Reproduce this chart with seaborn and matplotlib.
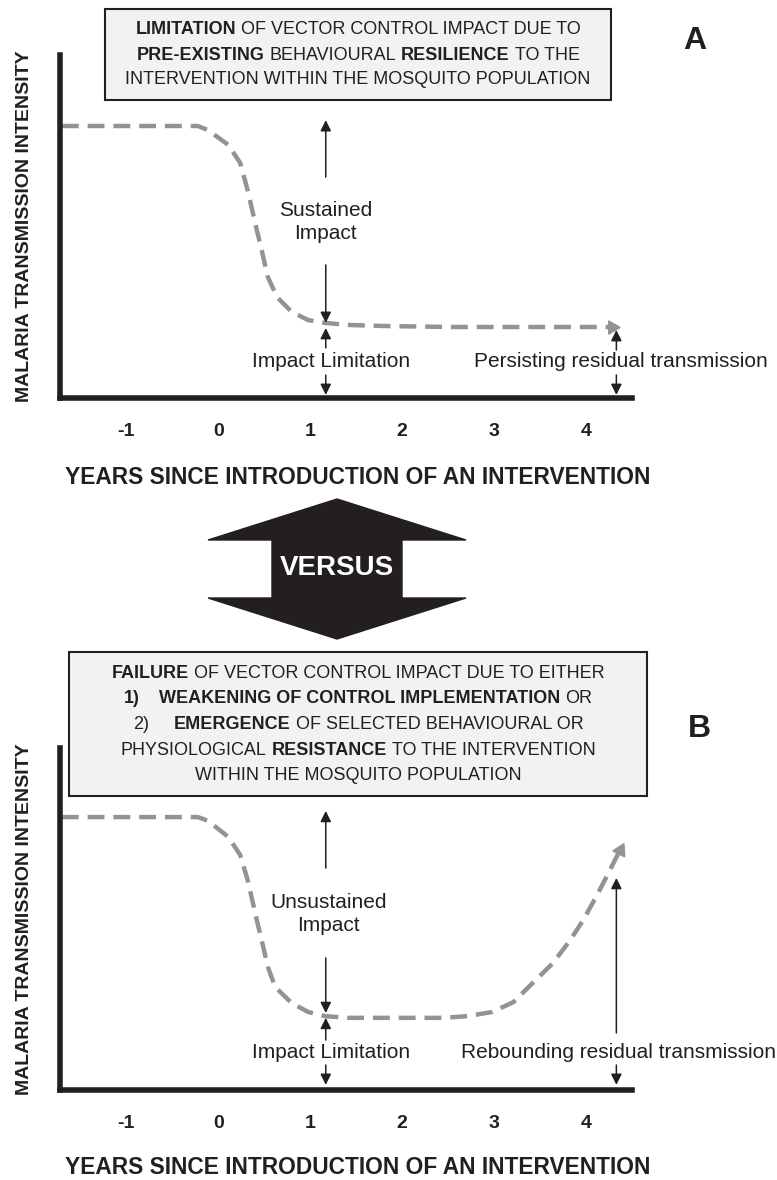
import numpy as np
import pandas as pd
import matplotlib
matplotlib.use("Agg")
import matplotlib.pyplot as plt
import seaborn as sns
from matplotlib.patches import Rectangle, Polygon

# ---- data ----
years = [-1, 0, 1, 2, 3, 4]

curve_a_x = [-1.70, -0.22, -0.11, 0.11, 0.24, 0.32, 0.37, 0.42, 0.48, 0.54, 0.64,
             0.80, 0.98, 1.16, 1.41, 1.79, 2.52, 4.28]
curve_a_y = [0.793, 0.793, 0.781, 0.738, 0.685, 0.606, 0.548, 0.490, 0.423, 0.353, 0.294,
             0.251, 0.227, 0.219, 0.213, 0.210, 0.207, 0.207]

curve_b_x = [-1.70, -0.22, -0.11, 0.11, 0.24, 0.32, 0.37, 0.42, 0.48, 0.54, 0.62,
             0.80, 0.98, 1.16, 1.41, 2.01, 2.45, 2.71, 2.98, 3.21, 3.42, 3.64,
             3.83, 3.97, 4.12, 4.26, 4.37]
curve_b_y = [0.798, 0.798, 0.787, 0.740, 0.687, 0.614, 0.556, 0.497, 0.430, 0.360, 0.301,
             0.254, 0.228, 0.216, 0.211, 0.211, 0.211, 0.216, 0.228, 0.257, 0.313, 0.371,
             0.439, 0.497, 0.570, 0.643, 0.702]

# arrows: (x, tail y, head y)
arrows_a = [(1.17, 0.644, 0.810), (1.17, 0.388, 0.219), (1.17, 0.146, 0.204),
            (1.17, 0.067, 0.009), (4.33, 0.140, 0.198), (4.33, 0.067, 0.009)]
arrows_b = [(1.17, 0.649, 0.816), (1.17, 0.386, 0.225), (1.17, 0.146, 0.211),
            (1.17, 0.073, 0.015), (4.33, 0.167, 0.620), (4.33, 0.073, 0.015)]

notes_a = [("Sustained\nImpact", 1.17, 0.513), ("Impact Limitation", 1.23, 0.105),
           ("Persisting residual transmission", 4.38, 0.105)]
notes_b = [("Unsustained\nImpact", 1.20, 0.515), ("Impact Limitation", 1.23, 0.111),
           ("Rebounding residual transmission", 4.35, 0.111)]

box_a_lines = [
    [("LIMITATION", True, None), ("OF VECTOR CONTROL IMPACT DUE TO", False, None)],
    [("PRE-EXISTING", True, None), ("BEHAVIOURAL", False, None), ("RESILIENCE", True, None),
     ("TO THE", False, None)],
    [("INTERVENTION WITHIN THE MOSQUITO POPULATION", False, None)],
]
box_b_lines = [
    [("FAILURE", True, None), ("OF VECTOR CONTROL IMPACT DUE TO EITHER", False, None)],
    [("1)", True, 20), ("WEAKENING OF CONTROL IMPLEMENTATION", True, None), ("OR", False, None)],
    [("2)", False, 25), ("EMERGENCE", True, None), ("OF SELECTED BEHAVIOURAL OR", False, None)],
    [("PHYSIOLOGICAL", False, None), ("RESISTANCE", True, None),
     ("TO THE INTERVENTION", False, None)],
    [("WITHIN THE MOSQUITO POPULATION", False, None)],
]

ink = "#231f20"
grey = "#939393"

sns.set_style("white")
plt.rcParams["font.family"] = ["Liberation Sans", "DejaVu Sans"]

W, H = 777, 1180
fig = plt.figure(figsize=(W / 100, H / 100), dpi=100)
renderer = fig.canvas.get_renderer()


def panel(top, bottom, cx, cy, arrows, notes, xlabel_y):
    ax = fig.add_axes([60 / W, 1 - bottom / H, 572 / W, (bottom - top) / H])
    ax.set_facecolor("none")
    df = pd.DataFrame({"x": cx, "y": cy})
    sns.lineplot(data=df, x="x", y="y", ax=ax, color=grey, lw=3.2, sort=False,
                 estimator=None, ls=(0, (3.8, 2.0)))
    ax.set_xlim(-1.72, 4.5)
    ax.set_ylim(0, 1)
    # grey arrow head at end of the dashed curve
    p = ax.transData.transform([[cx[-2], cy[-2]], [cx[-1], cy[-1]]])
    ang = np.degrees(np.arctan2(p[1, 1] - p[0, 1], p[1, 0] - p[0, 0]))
    ax.plot(cx[-1], cy[-1], marker=(3, 0, ang - 90), ms=11, color=grey)

    for x, y0, y1 in arrows:
        ax.annotate("", xy=(x, y1), xytext=(x, y0),
                    arrowprops=dict(arrowstyle="-|>", color=ink, lw=1.1,
                                    mutation_scale=16, shrinkA=0, shrinkB=0))
    for s, x, y in notes:
        ax.text(x, y, s, ha="center", va="center", fontsize=15, color=ink,
                linespacing=1.3)

    sns.despine(ax=ax)
    for side in ["left", "bottom"]:
        ax.spines[side].set_linewidth(4)
        ax.spines[side].set_color(ink)
        ax.spines[side].set_capstyle("projecting")
    ax.set_yticks([])
    ax.set_xticks(years)
    ax.set_xticklabels([str(v) for v in years])
    ax.tick_params(axis="x", direction="out", length=10, width=4, color=ink,
                   pad=8, labelsize=14, labelcolor=ink)
    for lbl in ax.get_xticklabels():
        lbl.set_fontweight("bold")
    ax.set_ylabel("MALARIA TRANSMISSION INTENSITY", fontsize=14, fontweight="bold",
                  color=ink)
    ax.yaxis.label.set_va("center")
    ax.yaxis.set_label_coords(-35 / 572, 0.5)
    ax.set_xlabel("YEARS SINCE INTRODUCTION OF AN INTERVENTION", fontsize=16.4,
                  fontweight="bold", color=ink)
    ax.xaxis.label.set_va("center")
    ax.xaxis.set_label_coords((358 - 60) / 572, -(xlabel_y - bottom) / (bottom - top))
    return ax


axA = panel(55, 398, curve_a_x, curve_a_y, arrows_a, notes_a, 477)
axB = panel(748, 1090, curve_b_x, curve_b_y, arrows_b, notes_b, 1168)

# overlay in pixel units for boxes, panel letters and the VERSUS arrow
ov = fig.add_axes([0, 0, 1, 1])
ov.set_xlim(0, W)
ov.set_ylim(H, 0)
ov.axis("off")

BOX_FS = 13


def text_width(s, bold):
    t = ov.text(0, 0, s, fontsize=BOX_FS, fontweight="bold" if bold else "normal")
    w = t.get_window_extent(renderer).width
    t.remove()
    return w


space = text_width("I I", False) - text_width("II", False)


def rich_line(xc, y, parts):
    items = []
    for s, bold, gap in parts:
        t = ov.text(0, y, s, fontsize=BOX_FS, fontweight="bold" if bold else "normal",
                    va="center", ha="left", color=ink)
        items.append((t, t.get_window_extent(renderer).width, space if gap is None else gap))
    total = sum(w for _, w, _ in items) + sum(g for _, _, g in items[:-1])
    x = xc - total / 2
    for t, w, g in items:
        t.set_x(x)
        x += w + g


ov.add_patch(Rectangle((105, 9), 506, 91, facecolor="#f2f2f2", edgecolor=ink, lw=1.5))
for i, parts in enumerate(box_a_lines):
    rich_line(358, 30 + i * 25, parts)

ov.add_patch(Rectangle((69, 652), 578, 144, facecolor="#f2f2f2", edgecolor=ink, lw=1.5))
for i, parts in enumerate(box_b_lines):
    rich_line(358, 673 + i * 25.7, parts)

ov.text(695, 41, "A", fontsize=23, fontweight="bold", color=ink, ha="center", va="center")
ov.text(699, 729, "B", fontsize=23, fontweight="bold", color=ink, ha="center", va="center")

versus = [(337, 499), (466, 540), (402, 540), (402, 598), (466, 598), (337, 639),
          (208, 598), (272, 598), (272, 540), (208, 540)]
ov.add_patch(Polygon(versus, closed=True, facecolor=ink, edgecolor=ink))
ov.text(337, 568, "VERSUS", fontsize=20, fontweight="bold", color="white",
        ha="center", va="center")

fig.savefig("out.png", dpi=100, facecolor="white")
